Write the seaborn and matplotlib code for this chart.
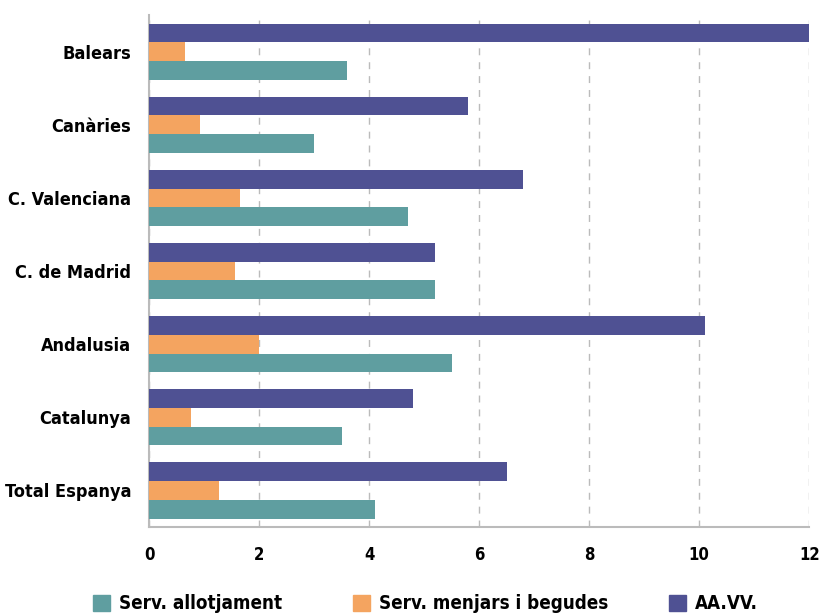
import matplotlib
matplotlib.use("Agg")
import matplotlib.pyplot as plt
import seaborn as sns
import pandas as pd
from matplotlib.patches import Patch
from matplotlib import font_manager

# === 1. Data ===
regions = ["Balears", "Canàries", "C. Valenciana", "C. de Madrid",
           "Andalusia", "Catalunya", "Total Espanya"]
allotjament = [3.6, 3.0, 4.7, 5.2, 5.5, 3.5, 4.1]
menjars = [0.65, 0.92, 1.65, 1.57, 2.0, 0.76, 1.28]
aavv = [12.0, 5.8, 6.8, 5.2, 10.1, 4.8, 6.5]

s_allot = "Serv. allotjament"
s_menj = "Serv. menjars i begudes"
s_aavv = "AA.VV."
colors = {s_allot: "#5F9EA0", s_menj: "#F4A460", s_aavv: "#4F5193"}

df = pd.DataFrame({"region": regions, s_aavv: aavv, s_menj: menjars, s_allot: allotjament})
long = df.melt(id_vars="region", var_name="serie", value_name="valor")

# === 2. Style ===
sns.set_style("white")
names = {f.name for f in font_manager.fontManager.ttflist}
if "Liberation Sans Narrow" in names:
    plt.rcParams["font.family"] = ["Liberation Sans Narrow", "DejaVu Sans"]
else:
    plt.rcParams["font.family"] = ["DejaVu Sans"]
    plt.rcParams["font.stretch"] = "condensed"
plt.rcParams["font.weight"] = "bold"
plt.rcParams["text.color"] = "black"
plt.rcParams["xtick.color"] = "black"
plt.rcParams["ytick.color"] = "black"

fig = plt.figure(figsize=(8.19, 6.16), dpi=100)
ax = fig.add_axes([0.182, 0.1445, 0.806, 0.831])

sns.barplot(data=long, y="region", x="valor", hue="serie",
            hue_order=[s_aavv, s_menj, s_allot], order=regions,
            palette=colors, orient="h", width=0.77, gap=0,
            saturation=1, linewidth=0, legend=False, ax=ax, zorder=3)

# === 3. Axes ===
ax.set_xlim(0, 12)
ax.set_ylim(len(regions) - 0.5, -0.5)
ax.set_xticks(range(0, 13, 2))
ax.set_xlabel("")
ax.set_ylabel("")
ax.xaxis.grid(True, linestyle=(0, (5, 5)), color="#BBBBBB", linewidth=1, zorder=0)
ax.yaxis.grid(False)

for side in ["top", "right"]:
    ax.spines[side].set_visible(False)
for side in ["left", "bottom"]:
    ax.spines[side].set_color("#BBBBBB")
    ax.spines[side].set_linewidth(1.5)

ax.set_yticks([i - 0.5 for i in range(len(regions) + 1)], minor=True)
ax.tick_params(axis="y", which="minor", length=8, color="#BBBBBB", width=1.5)
ax.tick_params(axis="y", which="major", length=0, pad=13, labelsize=13)
ax.tick_params(axis="x", length=0, pad=14, labelsize=12)

# === 4. Legend (one entry per position) ===
legend_pos = [(s_allot, 0.100), (s_menj, 0.417), (s_aavv, 0.803)]
for serie, x0 in legend_pos:
    fig.legend([Patch(color=colors[serie])], [serie], loc="lower left",
               bbox_to_anchor=(x0, -0.014), frameon=False, fontsize=13.5,
               handlelength=0.9, handleheight=0.9, handletextpad=0.5,
               borderpad=0.3, borderaxespad=0.3)

plt.savefig("out.png", dpi=100)
plt.close()
